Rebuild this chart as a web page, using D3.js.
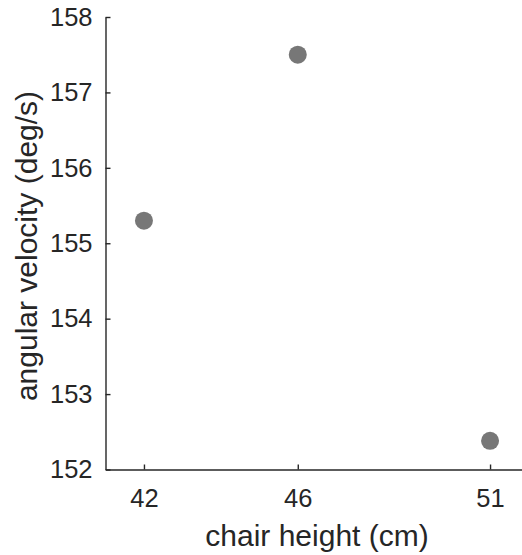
<!DOCTYPE html>
<html>
<head>
<meta charset="utf-8">
<script src="https://cdn.jsdelivr.net/npm/d3@7"></script>
<style>
  html, body { margin: 0; padding: 0; background: #fff; }
  svg { display: block; }
  text { font-family: "Liberation Sans", Arial, sans-serif; fill: #262626; }
</style>
</head>
<body>
<svg id="chart" width="522" height="555"></svg>
<script>
const chairHeights = [42, 46, 51];
const angularVelocity = [155.3, 157.5, 152.38];
const xTicks = [42, 46, 51];
const yTicks = [152, 153, 154, 155, 156, 157, 158];
const xLabel = "chair height (cm)";
const yLabel = "angular velocity (deg/s)";

const svg = d3.select("#chart");
const mLeft = 105.5, mTop = 17, mBottom = 469.5, mRight = 528.5;

const x = d3.scaleLinear().domain([41, 52]).range([mLeft, mRight]);
const y = d3.scaleLinear().domain([152, 158]).range([mBottom, mTop]);

const axisColor = "#262626";

// Y axis (ticks inward)
const yAxis = svg.append("g").attr("transform", `translate(${mLeft},0)`)
  .call(d3.axisLeft(y).tickValues(yTicks).tickSizeInner(-5).tickSizeOuter(0).tickPadding(13).tickFormat(d3.format("d")));
yAxis.select(".domain").attr("stroke", axisColor).attr("stroke-width", 1.4);
yAxis.selectAll(".tick line").attr("stroke", axisColor).attr("stroke-width", 1.4);
yAxis.selectAll(".tick text").attr("font-size", 25.5).attr("font-family", "Liberation Sans, Arial, sans-serif").attr("fill", axisColor);

// X axis (ticks inward)
const xAxis = svg.append("g").attr("transform", `translate(0,${mBottom})`)
  .call(d3.axisBottom(x).tickValues(xTicks).tickSizeInner(-5).tickSizeOuter(0).tickPadding(19).tickFormat(d3.format("d")));
xAxis.select(".domain").attr("stroke", axisColor).attr("stroke-width", 1.4);
xAxis.selectAll(".tick line").attr("stroke", axisColor).attr("stroke-width", 1.4);
xAxis.selectAll(".tick text").attr("font-size", 25.5).attr("font-family", "Liberation Sans, Arial, sans-serif").attr("fill", axisColor);

// Labels
svg.append("text")
  .attr("x", (mLeft + mRight) / 2).attr("y", 546)
  .attr("text-anchor", "middle").attr("font-size", 30)
  .text(xLabel);

svg.append("text")
  .attr("transform", `translate(37,246) rotate(-90)`)
  .attr("text-anchor", "middle").attr("font-size", 30)
  .text(yLabel);

// Points
svg.append("g").selectAll("circle")
  .data(chairHeights.map((h, i) => ({ h, v: angularVelocity[i] })))
  .join("circle")
  .attr("cx", d => x(d.h))
  .attr("cy", d => y(d.v))
  .attr("r", 9)
  .attr("fill", "#777777");
</script>
</body>
</html>
